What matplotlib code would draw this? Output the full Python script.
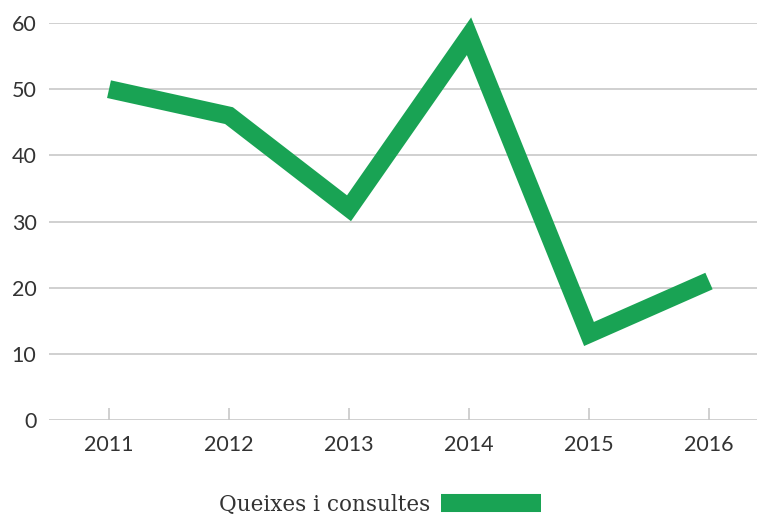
import matplotlib.pyplot as plt
from matplotlib.lines import Line2D

anys = ['2011', '2012', '2013', '2014', '2015', '2016']
queixes = [50, 46, 32, 58, 13, 21]
nom_serie = 'Queixes i consultes'
verd = '#19a354'
gris = '#c8c8c8'

fig = plt.figure(figsize=(7.57, 5.18), dpi=100)
ax = fig.add_axes([49/757, 1 - 420/518, 1 - 49/757, (420 - 23)/518])

x = range(len(anys))
ax.plot(x, queixes, color=verd, lw=13, solid_joinstyle='miter',
        solid_capstyle='butt', clip_on=False, zorder=3)

ax.set_xlim(-0.5, 5.4)
ax.set_ylim(0, 60)
ax.set_yticks(range(0, 61, 10))
ax.set_xticks(list(x))
ax.set_xticklabels(anys)
ax.grid(axis='y', color=gris, lw=1.2)
ax.set_axisbelow(True)
for s in ax.spines.values():
    s.set_visible(False)

ax.tick_params(axis='y', length=0, pad=9, labelsize=15.5, labelcolor='#333333')
ax.tick_params(axis='x', direction='in', length=9, width=1.2, color=gris,
               pad=11, labelsize=15.5, labelcolor='#333333')
for lab in ax.get_xticklabels() + ax.get_yticklabels():
    lab.set_fontfamily('Lato')

handle = Line2D([0], [0], color=verd, lw=13, solid_capstyle='butt')
fig.legend(handles=[handle], labels=[nom_serie], loc='center',
           bbox_to_anchor=(380/757, 1 - 505/518), frameon=False,
           markerfirst=False, handlelength=4.6, handletextpad=0.5,
           prop={'family': 'DejaVu Serif', 'size': 15.5}, labelcolor='#333333')

fig.savefig('out.png', dpi=100)
